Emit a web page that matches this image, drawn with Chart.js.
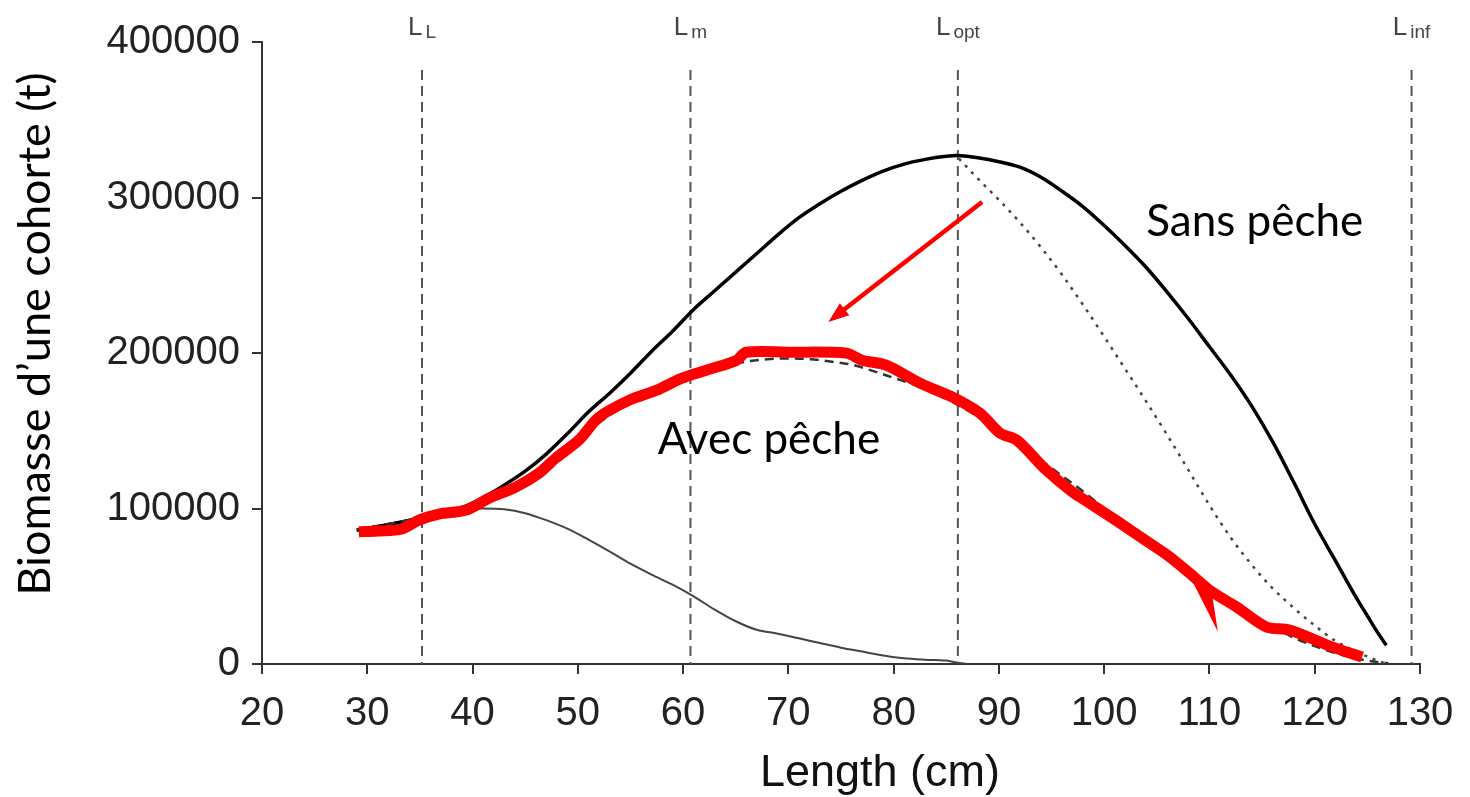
<!DOCTYPE html>
<html lang="fr">
<head>
<meta charset="UTF-8">
<title>Biomasse d'une cohorte</title>
<style>
    body { margin: 0; background: #fff; }
    .cadre { width: 1470px; height: 797px; position: relative; }
</style>
</head>
<body>
<div class="cadre"><canvas id="graphe"></canvas></div>

<script src="https://cdn.jsdelivr.net/npm/chart.js"></script>
<script>
    // Sans pêche (trait noir épais)
    const sansPecheX = [29, 31, 33, 35, 37, 39, 41, 43, 45, 47, 49, 51, 53, 55, 57, 59, 61, 63, 65, 67, 69, 71, 73, 75, 77, 79, 81, 83, 85, 86,
                        88, 90, 92, 94, 96, 98, 100, 102, 104, 106, 108, 110, 112, 114, 116, 118, 120, 122, 124, 125, 126, 126.8];
    const sansPecheY = [86000, 88500, 91000, 94000, 97000, 100500, 107000, 115000, 124000, 135000, 148000, 162000, 174000, 187000, 201000,
                        214000, 228000, 240000, 252000, 264000, 276000, 287000, 296000, 304000, 311000, 317000, 321500, 324500, 326500, 327000,
                        325500, 323000, 319500, 313000, 304000, 294000, 282000, 269000, 255000, 239000, 222000, 204000, 186000, 166000,
                        143000, 117000, 90000, 66000, 42000, 31000, 20000, 12000];

    // Avec pêche (tirets)
    const avecPecheX = [29, 32, 35, 38, 40, 42, 44, 46, 48, 50, 52, 54, 56, 58, 60, 62, 64, 66, 68, 70, 72, 74, 76, 78, 80, 82, 84, 86, 88,
                        90, 92, 94, 96, 98, 100, 102, 104, 106, 108, 110, 112, 114, 116, 118, 120, 122, 124, 126, 127];
    const avecPecheY = [86500, 90000, 94000, 98000, 101000, 107000, 114000, 122000, 132000, 143000, 155000, 164000, 171000, 177000, 182500,
                        187000, 191500, 194500, 196000, 196500, 196000, 194500, 192500, 188500, 184000, 179500, 174000, 167000, 159000,
                        150000, 141000, 131000, 121000, 111000, 100000, 89000, 79000, 68500, 58500, 49000, 40000, 31000, 24000, 17000,
                        11500, 7000, 3500, 1200, 500];

    // Tracé rouge par-dessus la courbe avec pêche
    const surlignageX = [29.2, 31, 33.3, 34.9, 36.8, 39.4, 41.6, 44.1, 46.3, 47.9, 50.1, 52, 54.9, 57.5, 59.9, 62.5, 65.1, 66, 70, 75.5, 77,
                         79.3, 82.5, 85.6, 88.2, 90.1, 91.7, 94.5, 97, 98.5, 101.2, 104.3, 106, 108.1, 110, 112.6, 115.4, 117.6, 121.7, 124.5];
    const surlignageY = [85000, 85500, 86800, 92500, 96400, 99000, 106700, 113800, 122700, 132400, 144000, 158700, 169700, 176100, 183800,
                         189500, 195400, 200500, 200500, 199900, 195400, 192200, 180600, 171600, 161300, 148500, 144000, 124700, 110500,
                         104000, 92000, 77800, 70000, 58500, 47500, 36600, 23800, 21900, 10900, 4500];

    // Pointillés à partir de L opt
    const pointillesX = [86.2, 88, 90, 92, 94, 96, 98, 100, 102, 104, 106, 108, 110, 112, 114, 116, 118, 120, 122, 124, 126, 126.7];
    const pointillesY = [325000, 312100, 298500, 283900, 267900, 250300, 230900, 210500, 189700, 168700, 147100, 124700, 102100, 81500,
                         63900, 48700, 36100, 24700, 14700, 7700, 2100, 300];

    // Courbe fine grise
    const fineX = [29, 32, 35, 38, 41, 43, 45, 47, 49, 51, 53, 55, 57, 59, 61, 63, 65, 67, 69, 71, 73, 75, 77, 79, 81, 83, 85, 86, 87];
    const fineY = [86000, 90000, 94000, 98000, 100000, 99500, 97000, 92500, 87000, 80000, 72500, 64500, 57500, 51000, 43500, 35000, 27500,
                   22000, 19500, 16500, 13500, 10500, 8000, 5500, 3700, 2800, 2200, 1000, 0];

    // Longueurs de référence (lignes verticales) et leurs indices
    const repereLongueurs = [35.2, 60.7, 86.1, 129.2];
    const repereIndices = ['L', 'm', 'opt', 'inf'];
    const repereHaut = 382000;

    // Graduations
    const ticksX = [20, 30, 40, 50, 60, 70, 80, 90, 100, 110, 120, 130];
    const ticksY = [0, 100000, 200000, 300000, 400000];

    // Flèche rouge et pointe près de 110 cm (longueur, biomasse)
    const flecheDebut = [88.4, 297100];
    const flecheFin = [73.8, 220000];
    const pointe = [[108.2, 55600], [110.3, 42600], [110.8, 20800]];

    const pts = (xs, ys) => xs.map((v, i) => ({ x: v, y: ys[i] }));

    const lignesReperes = repereLongueurs.map(l => ({
        data: [{ x: l, y: repereHaut }, { x: l, y: 0 }],
        borderColor: '#555',
        borderWidth: 2,
        borderDash: [10, 6],
        order: 6
    }));

    const annotations = {
        id: 'annotations',
        afterDatasetsDraw(chart) {
            const { ctx, scales: { x, y } } = chart;
            ctx.save();

            // flèche rouge
            const x0 = x.getPixelForValue(flecheDebut[0]), y0 = y.getPixelForValue(flecheDebut[1]);
            const x1 = x.getPixelForValue(flecheFin[0]), y1 = y.getPixelForValue(flecheFin[1]);
            const ang = Math.atan2(y1 - y0, x1 - x0);
            const tete = 22;
            ctx.strokeStyle = '#ff0000';
            ctx.fillStyle = '#ff0000';
            ctx.lineWidth = 4.5;
            ctx.beginPath();
            ctx.moveTo(x0, y0);
            ctx.lineTo(x1 - 0.8 * tete * Math.cos(ang), y1 - 0.8 * tete * Math.sin(ang));
            ctx.stroke();
            ctx.beginPath();
            ctx.moveTo(x1, y1);
            ctx.lineTo(x1 - tete * Math.cos(ang - 0.36), y1 - tete * Math.sin(ang - 0.36));
            ctx.lineTo(x1 - tete * Math.cos(ang + 0.36), y1 - tete * Math.sin(ang + 0.36));
            ctx.closePath();
            ctx.fill();

            // petite pointe rouge
            ctx.beginPath();
            pointe.forEach((p, i) => {
                const px = x.getPixelForValue(p[0]), py = y.getPixelForValue(p[1]);
                if (i === 0) ctx.moveTo(px, py); else ctx.lineTo(px, py);
            });
            ctx.closePath();
            ctx.fill();

            // légendes des courbes
            ctx.fillStyle = '#000';
            ctx.font = '44px Lato';
            ctx.textAlign = 'left';
            ctx.textBaseline = 'alphabetic';
            ctx.fillText('Sans pêche', x.getPixelForValue(104.0), y.getPixelForValue(275300));
            ctx.fillText('Avec pêche', x.getPixelForValue(57.6), y.getPixelForValue(135200));
            ctx.restore();
        },
        afterDraw(chart) {
            const { ctx, scales: { x }, chartArea } = chart;
            ctx.save();

            // L avec indice au-dessus de chaque ligne verticale
            ctx.fillStyle = '#444';
            ctx.textBaseline = 'alphabetic';
            ctx.textAlign = 'left';
            repereLongueurs.forEach((l, i) => {
                const px = x.getPixelForValue(l);
                ctx.font = '26px "Liberation Sans", Arial';
                const wL = ctx.measureText('L').width + 3;
                ctx.font = '19px "Liberation Sans", Arial';
                const wI = ctx.measureText(repereIndices[i]).width;
                const debut = px - (wL + wI) / 2;
                ctx.font = '26px "Liberation Sans", Arial';
                ctx.fillText('L', debut, chartArea.top - 7);
                ctx.font = '19px "Liberation Sans", Arial';
                ctx.fillText(repereIndices[i], debut + wL, chartArea.top - 4);
            });

            // titres des axes
            ctx.fillStyle = '#111';
            ctx.font = '45px "Liberation Sans", Arial';
            ctx.textAlign = 'center';
            ctx.fillText('Length (cm)', 880, 786);

            ctx.fillStyle = '#000';
            ctx.font = '45px Lato';
            ctx.translate(50, 334);
            ctx.rotate(-Math.PI / 2);
            ctx.fillText('Biomasse d’une cohorte (t)', 0, 0);
            ctx.restore();
        }
    };

    const policeTicks = { family: '"Liberation Sans", Arial, sans-serif', size: 40 };

    new Chart(document.getElementById('graphe'), {
        type: 'line',
        data: {
            datasets: [
                {
                    data: pts(surlignageX, surlignageY),
                    borderColor: '#ff0000',
                    borderWidth: 11,
                    borderJoinStyle: 'round',
                    tension: 0.3,
                    order: 0
                },
                {
                    data: pts(avecPecheX, avecPecheY),
                    borderColor: '#333',
                    borderWidth: 2.5,
                    borderDash: [9, 6],
                    cubicInterpolationMode: 'monotone',
                    order: 1
                },
                {
                    data: pts(sansPecheX, sansPecheY),
                    borderColor: '#000',
                    borderWidth: 3.5,
                    cubicInterpolationMode: 'monotone',
                    order: 2
                },
                {
                    data: pts(pointillesX, pointillesY),
                    borderColor: '#444',
                    borderWidth: 2.5,
                    borderDash: [3, 6],
                    cubicInterpolationMode: 'monotone',
                    order: 3
                },
                {
                    data: pts(fineX, fineY),
                    borderColor: '#444',
                    borderWidth: 2,
                    cubicInterpolationMode: 'monotone',
                    order: 4
                },
                ...lignesReperes
            ]
        },
        options: {
            responsive: true,
            maintainAspectRatio: false,
            animation: false,
            layout: { padding: { top: 42, right: 50, left: 0, bottom: 0 } },
            elements: { point: { radius: 0 } },
            plugins: { legend: { display: false }, tooltip: { enabled: false } },
            scales: {
                x: {
                    type: 'linear',
                    min: 20,
                    max: 130,
                    afterFit: s => { s.height = 133; },
                    afterBuildTicks: s => { s.ticks = ticksX.map(v => ({ value: v })); },
                    ticks: { font: policeTicks, color: '#222', padding: 16, maxRotation: 0 },
                    grid: { drawOnChartArea: false, tickLength: 10, color: '#333', lineWidth: 2 },
                    border: { color: '#333', width: 2 }
                },
                y: {
                    min: 0,
                    max: 400000,
                    afterFit: s => { s.width = 262; },
                    afterBuildTicks: s => { s.ticks = ticksY.map(v => ({ value: v })); },
                    ticks: { font: policeTicks, color: '#222', padding: 12, callback: v => String(v) },
                    grid: { drawOnChartArea: false, tickLength: 10, color: '#333', lineWidth: 2 },
                    border: { color: '#333', width: 2 }
                }
            }
        },
        plugins: [annotations]
    });
</script>
</body>
</html>
